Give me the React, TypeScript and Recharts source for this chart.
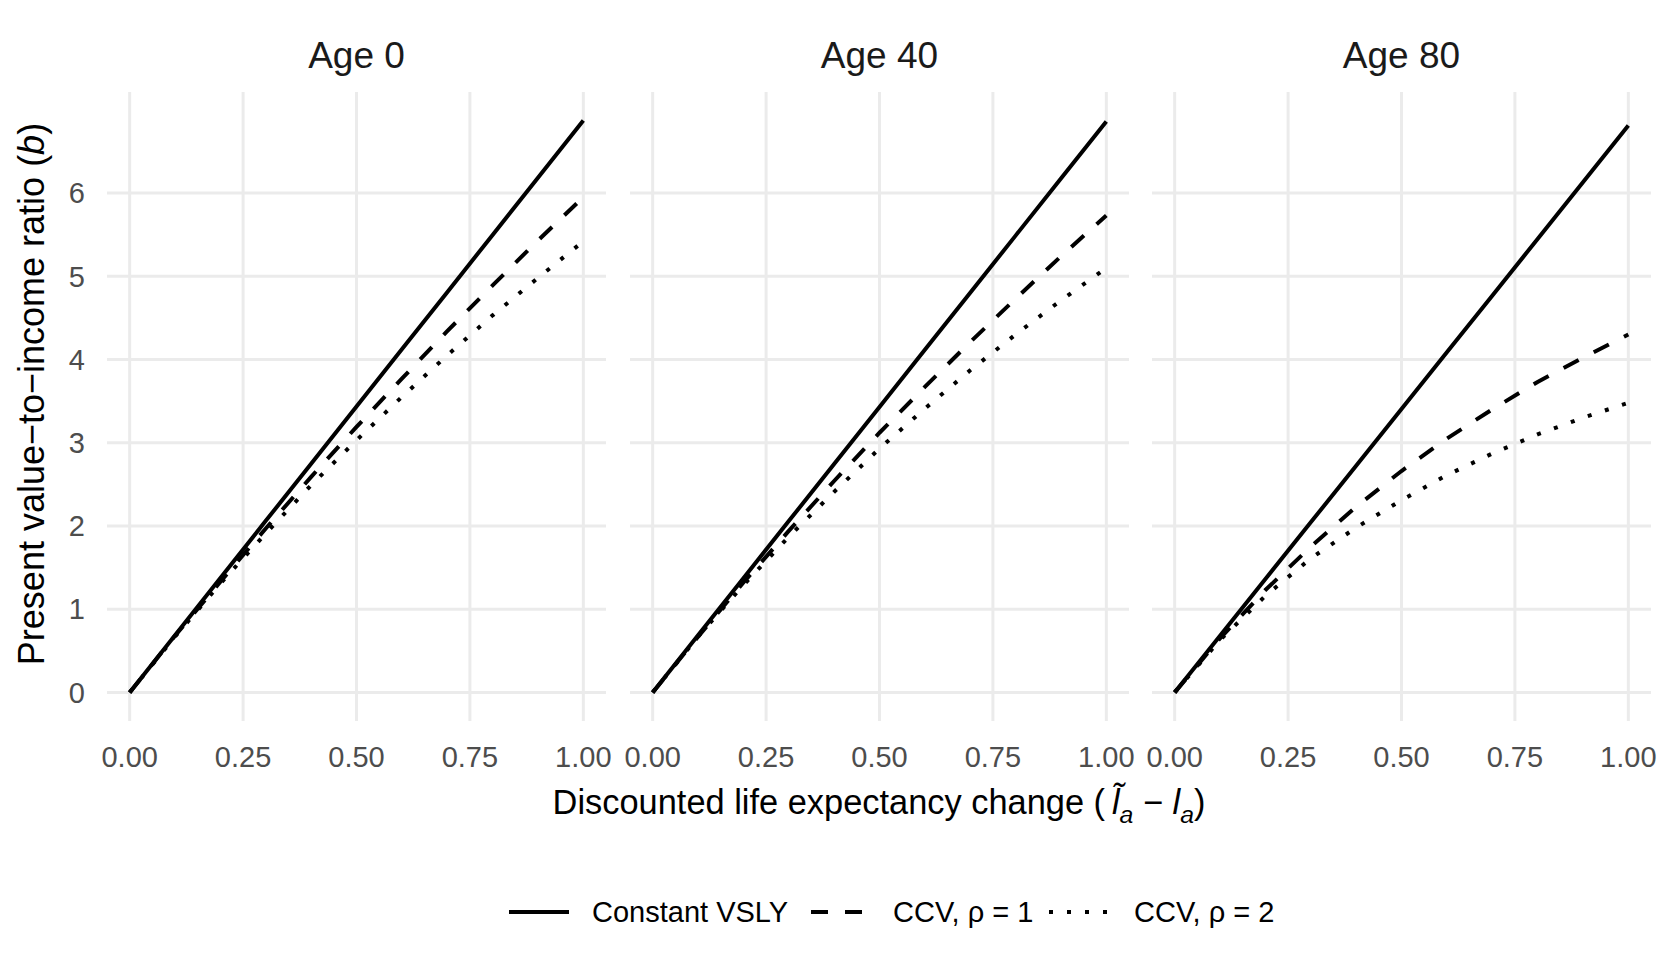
import { LineChart, Line, XAxis, YAxis, CartesianGrid } from 'recharts';

// x grid shared by every curve
const xValues = [0, 0.1, 0.2, 0.3, 0.4, 0.5, 0.6, 0.7, 0.8, 0.9, 1];

// Age 0
const age0Constant = [0, 0.687, 1.374, 2.061, 2.748, 3.435, 4.122, 4.809, 5.496, 6.183, 6.87];
const age0Ccv1 = [0, 0.68, 1.33, 1.97, 2.59, 3.19, 3.77, 4.34, 4.89, 5.43, 5.95];
const age0Ccv2 = [0, 0.67, 1.31, 1.91, 2.49, 3.03, 3.55, 4.05, 4.53, 4.98, 5.42];

// Age 40
const age40Constant = [0, 0.686, 1.372, 2.058, 2.744, 3.43, 4.116, 4.802, 5.488, 6.174, 6.86];
const age40Ccv1 = [0, 0.67, 1.32, 1.94, 2.54, 3.12, 3.67, 4.21, 4.73, 5.24, 5.73];
const age40Ccv2 = [0, 0.67, 1.29, 1.87, 2.41, 2.93, 3.41, 3.87, 4.3, 4.71, 5.1];

// Age 80
const age80Constant = [0, 0.681, 1.362, 2.043, 2.724, 3.405, 4.086, 4.767, 5.448, 6.129, 6.81];
const age80Ccv1 = [0, 0.65, 1.23, 1.75, 2.23, 2.66, 3.05, 3.4, 3.73, 4.02, 4.3];
const age80Ccv2 = [0, 0.63, 1.16, 1.61, 1.98, 2.31, 2.61, 2.87, 3.1, 3.3, 3.48];

const xTicks = [0, 0.25, 0.5, 0.75, 1];
const yTicks = [0, 1, 2, 3, 4, 5, 6];
const panelTitles = ['Age 0', 'Age 40', 'Age 80'];
const seriesLabels = ['Constant VSLY', 'CCV, ρ = 1', 'CCV, ρ = 2'];

const FONT = '"Liberation Sans", Arial, Helvetica, sans-serif';

const buildRows = (constant: number[], ccv1: number[], ccv2: number[]) =>
  xValues.map((x, i) => ({ x, constant: constant[i], ccv1: ccv1[i], ccv2: ccv2[i] }));

const panelRows = [
  buildRows(age0Constant, age0Ccv1, age0Ccv2),
  buildRows(age40Constant, age40Ccv1, age40Ccv2),
  buildRows(age80Constant, age80Ccv1, age80Ccv2),
];

const SERIES = [
  { key: 'constant', dash: undefined as string | undefined },
  { key: 'ccv1', dash: '17 17' },
  { key: 'ccv2', dash: '4 14' },
];

// layout (page pixels)
const PANEL_LEFT = [107, 630, 1152];
const PANEL_W = 499;
const PANEL_TOP = 92;
const PANEL_BOTTOM = 721;
const CHART_H = 800;
const Y_AXIS_W = 107;
const PAD = 40; // room so edge tick labels are not clipped

function Panel({ index }: { index: number }) {
  const first = index === 0;
  const left = first ? 0 : PANEL_LEFT[index] - PAD;
  const width = first ? Y_AXIS_W + PANEL_W + PAD : PANEL_W + 2 * PAD;
  return (
    <div style={{ position: 'absolute', left, top: 0 }}>
      <LineChart
        width={width}
        height={CHART_H}
        data={panelRows[index]}
        margin={{ top: PANEL_TOP, right: PAD, bottom: 0, left: first ? 0 : PAD }}
      >
        <CartesianGrid stroke="#EBEBEB" strokeWidth={3} syncWithTicks />
        <XAxis
          dataKey="x"
          type="number"
          domain={[-0.05, 1.05]}
          ticks={xTicks}
          interval={0}
          allowDataOverflow
          height={CHART_H - PANEL_BOTTOM}
          axisLine={false}
          tickLine={false}
          tickSize={0}
          tickMargin={25}
          tickFormatter={(v: number) => v.toFixed(2)}
          tick={{ fill: '#4D4D4D', fontSize: 29, fontFamily: FONT }}
        />
        <YAxis
          type="number"
          domain={[-0.3435, 7.2135]}
          ticks={yTicks}
          interval={0}
          allowDataOverflow
          hide={!first}
          width={Y_AXIS_W}
          axisLine={false}
          tickLine={false}
          tickSize={0}
          tickMargin={22}
          tick={{ fill: '#4D4D4D', fontSize: 29, fontFamily: FONT }}
        />
        {SERIES.map(s => (
          <Line
            key={s.key}
            dataKey={s.key}
            type="linear"
            stroke="#000000"
            strokeWidth={4}
            strokeDasharray={s.dash}
            dot={false}
            activeDot={false}
            isAnimationActive={false}
          />
        ))}
      </LineChart>
    </div>
  );
}

function LegendKey({ dash }: { dash?: string }) {
  return (
    <svg width={60} height={10} style={{ display: 'block' }}>
      <line x1={0} y1={5} x2={60} y2={5} stroke="#000" strokeWidth={4} strokeDasharray={dash} />
    </svg>
  );
}

const legendKeyX = [509, 811, 1049];
const legendTextX = [592, 893, 1134];

const subStyle = { fontSize: '0.72em', fontStyle: 'italic', position: 'relative' as const, top: '0.35em' };

export default function App() {
  return (
    <div
      style={{
        position: 'absolute',
        left: 0,
        top: 0,
        width: 1668,
        height: 957,
        background: '#fff',
        fontFamily: FONT,
        overflow: 'hidden',
      }}
    >
      {panelTitles.map((t, i) => (
        <div
          key={t}
          style={{
            position: 'absolute',
            left: PANEL_LEFT[i],
            width: PANEL_W,
            top: 55 - 18.5,
            height: 37,
            lineHeight: '37px',
            fontSize: 37,
            textAlign: 'center',
            color: '#1A1A1A',
          }}
        >
          {t}
        </div>
      ))}

      {[0, 1, 2].map(i => (
        <Panel key={i} index={i} />
      ))}

      {/* y axis title */}
      <div
        style={{
          position: 'absolute',
          left: 32 - 300,
          top: 394 - 18,
          width: 600,
          height: 36,
          lineHeight: '36px',
          fontSize: 36,
          textAlign: 'center',
          color: '#000',
          transform: 'rotate(-90deg)',
          whiteSpace: 'nowrap',
        }}
      >
        Present value−to−income ratio (<i>b</i>)
      </div>

      {/* x axis title */}
      <div
        style={{
          position: 'absolute',
          left: PANEL_LEFT[0],
          width: PANEL_LEFT[2] + PANEL_W - PANEL_LEFT[0],
          top: 802 - 17,
          height: 34,
          lineHeight: '34px',
          fontSize: 34.4,
          textAlign: 'center',
          color: '#000',
          whiteSpace: 'nowrap',
        }}
      >
        Discounted life expectancy change (&#8201;
        <i>l&#771;</i>
        <span style={subStyle}>a</span>
        {' − '}
        <i>l</i>
        <span style={subStyle}>a</span>)
      </div>

      {/* legend */}
      {SERIES.map((s, i) => (
        <div key={s.key}>
          <div style={{ position: 'absolute', left: legendKeyX[i], top: 912 - 5 }}>
            <LegendKey dash={s.dash} />
          </div>
          <div
            style={{
              position: 'absolute',
              left: legendTextX[i],
              top: 912 - 14.5,
              height: 29,
              lineHeight: '29px',
              fontSize: 29,
              color: '#000',
              whiteSpace: 'nowrap',
            }}
          >
            {seriesLabels[i]}
          </div>
        </div>
      ))}
    </div>
  );
}
